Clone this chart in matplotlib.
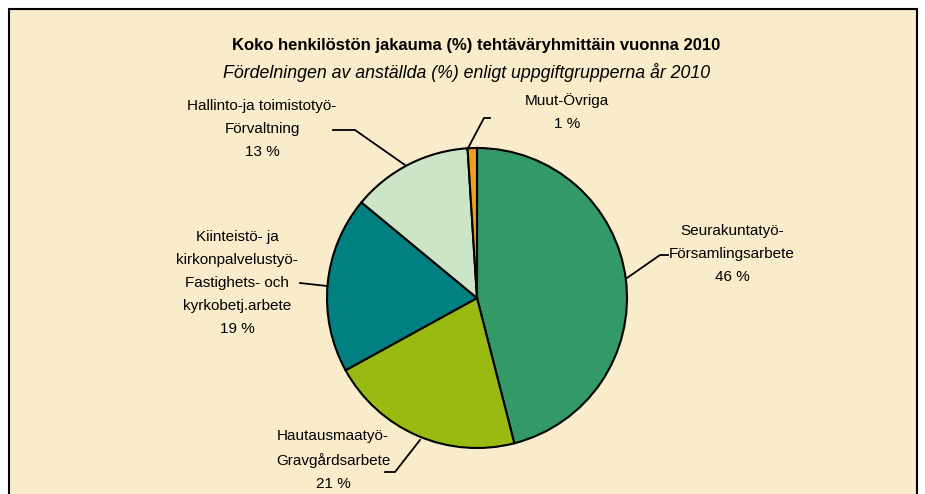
import matplotlib.pyplot as plt
from matplotlib.patches import Rectangle

categories = [
    "Seurakuntatyö-\nFörsamlingsarbete",
    "Hautausmaatyö-\nGravgårdsarbete",
    "Kiinteistö- ja\nkirkonpalvelustyö-\nFastighets- och\nkyrkobetj.arbete",
    "Hallinto-ja toimistotyö-\nFörvaltning",
    "Muut-Övriga",
]
shares = [46, 21, 19, 13, 1]
colors = ["#339966", "#99BB11", "#008080", "#CCE5C6", "#F39C1F"]

W, H = 925, 494
plt.rcParams["font.family"] = ["Liberation Sans", "DejaVu Sans"]

fig = plt.figure(figsize=(W / 100, H / 100), dpi=100, facecolor="white")
ax = fig.add_axes([0, 0, 1, 1])
ax.axis("off")

# frame with parchment fill
ax.add_patch(Rectangle((9, -20), 908, H - 9 + 20, facecolor="#F9ECCB",
                       edgecolor="black", linewidth=1.5, zorder=0))

cx, cy, r = 477, H - 298, 150
ax.pie(shares, colors=colors, startangle=90, counterclock=False,
       center=(cx, cy), radius=r,
       wedgeprops=dict(edgecolor="black", linewidth=1.5))
ax.set_xlim(0, W)
ax.set_ylim(0, H)
ax.set_aspect("auto")

ax.text(476, H - 46, "Koko henkilöstön jakauma (%) tehtäväryhmittäin vuonna 2010",
        ha="center", va="center", fontsize=12, fontweight="bold")
ax.text(467, H - 73, "Fördelningen av anställda (%) enligt uppgiftgrupperna år 2010",
        ha="center", va="center", fontsize=12.8, style="italic")

# label positions (center of text block, pixel coords from top) and leader lines
label_pos = [(732, 254), (333, 460), (237, 283), (262, 129), (567, 112)]
leaders = [
    [(627, 278), (660, 255), (668, 255)],
    [(420, 440), (395, 472), (385, 472)],
    [(327, 286), (300, 283)],
    [(405, 165), (355, 130), (333, 130)],
    [(467, 150), (484, 118), (490, 118)],
]
for cat, val, (tx, ty), pts in zip(categories, shares, label_pos, leaders):
    ax.text(tx, H - ty, f"{cat}\n{val} %", ha="center", va="center",
            fontsize=11, linespacing=1.8)
    ax.plot([p[0] for p in pts], [H - p[1] for p in pts], color="black", linewidth=1.3)

fig.savefig("out.png", dpi=100, facecolor="white")
